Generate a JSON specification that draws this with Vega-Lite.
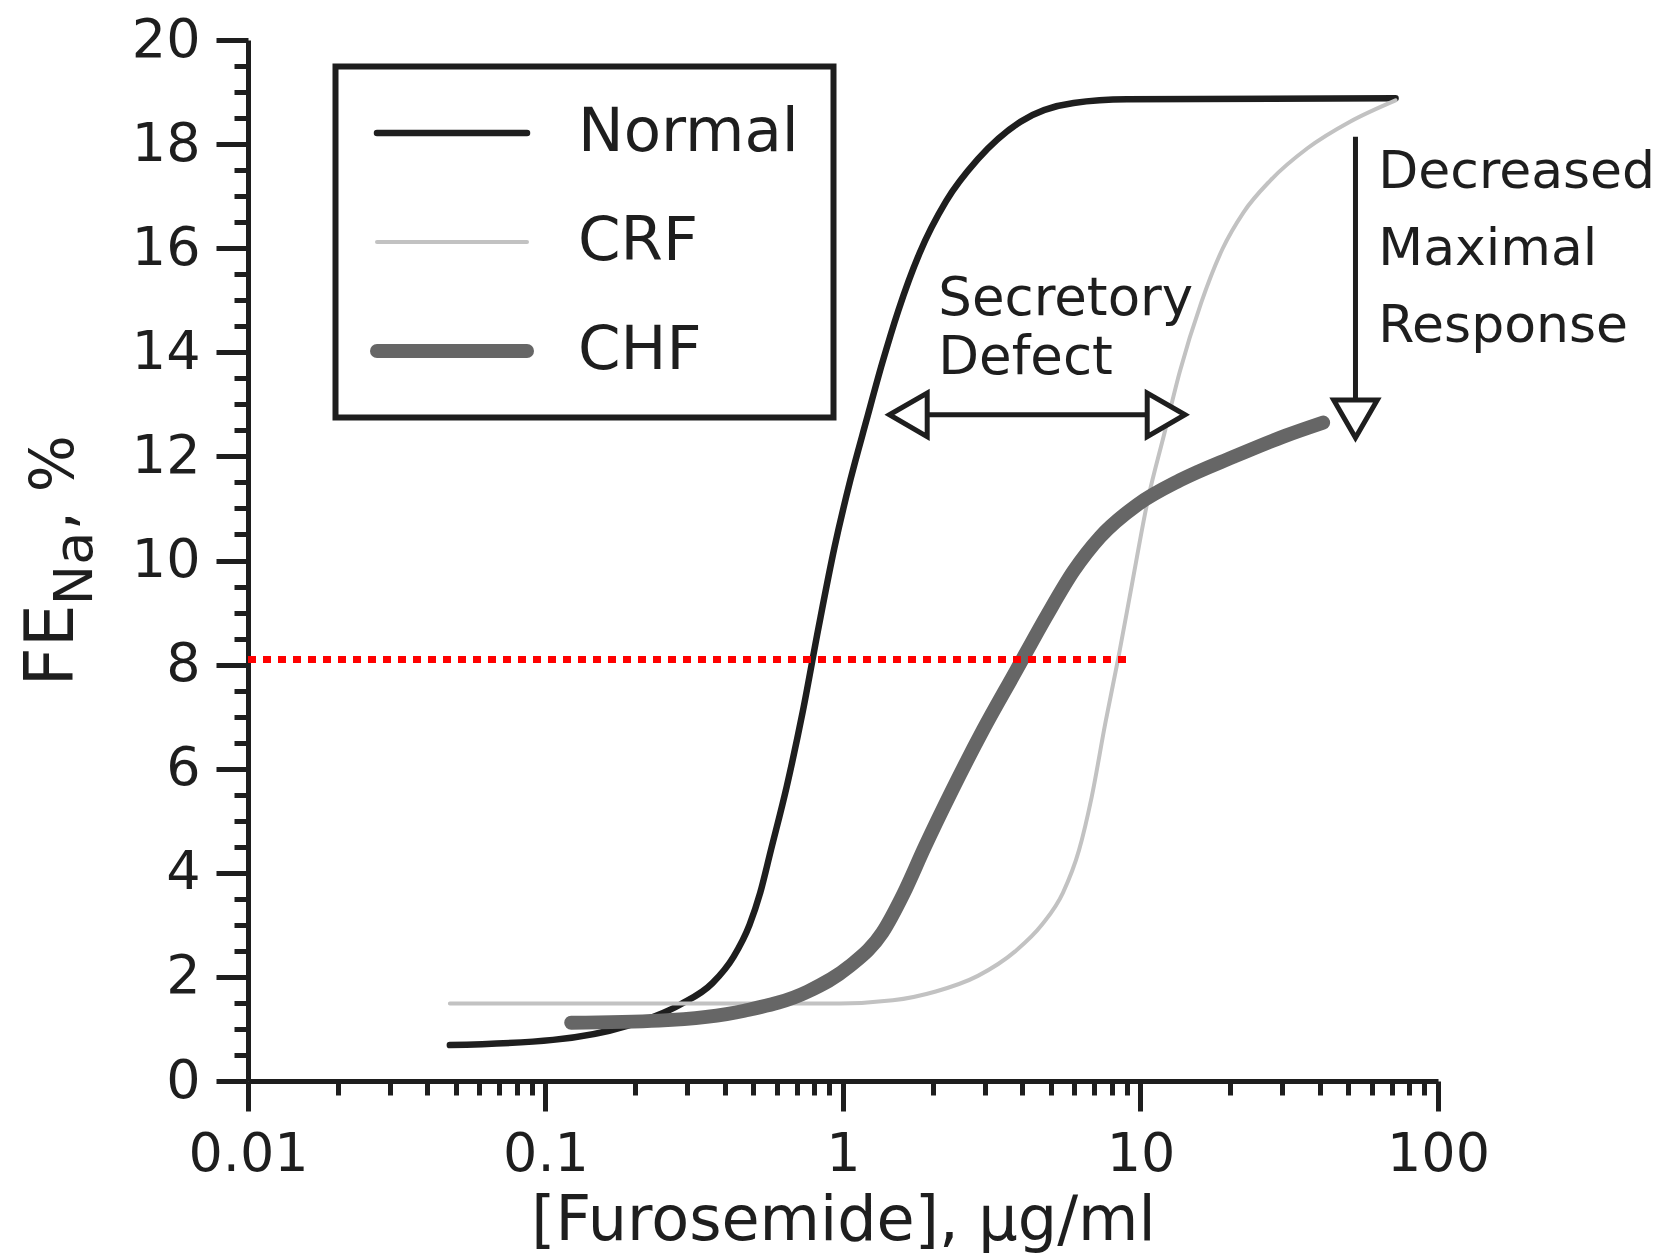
{
  "$schema": "https://vega.github.io/schema/vega-lite/v6.json",
  "width": 1190,
  "height": 1041,
  "autosize": "none",
  "padding": {"left": 248, "top": 40, "right": 229, "bottom": 177},
  "background": "white",
  "config": {
    "view": {"stroke": null},
    "font": "DejaVu Sans",
    "text": {"font": "DejaVu Sans", "color": "#1e1e1e"}
  },
  "datasets": {
    "curves": [
      {"series": "Normal", "conc": 0.0477, "fe": 0.69},
      {"series": "Normal", "conc": 0.106, "fe": 0.79},
      {"series": "Normal", "conc": 0.188, "fe": 1.06},
      {"series": "Normal", "conc": 0.284, "fe": 1.47},
      {"series": "Normal", "conc": 0.364, "fe": 1.88},
      {"series": "Normal", "conc": 0.429, "fe": 2.39},
      {"series": "Normal", "conc": 0.485, "fe": 3.0},
      {"series": "Normal", "conc": 0.527, "fe": 3.62},
      {"series": "Normal", "conc": 0.572, "fe": 4.43},
      {"series": "Normal", "conc": 0.647, "fe": 5.66},
      {"series": "Normal", "conc": 0.732, "fe": 7.09},
      {"series": "Normal", "conc": 0.828, "fe": 8.72},
      {"series": "Normal", "conc": 0.936, "fe": 10.25},
      {"series": "Normal", "conc": 1.059, "fe": 11.55},
      {"series": "Normal", "conc": 1.2, "fe": 12.7},
      {"series": "Normal", "conc": 1.356, "fe": 13.8},
      {"series": "Normal", "conc": 1.534, "fe": 14.8},
      {"series": "Normal", "conc": 1.807, "fe": 15.9},
      {"series": "Normal", "conc": 2.219, "fe": 16.9},
      {"series": "Normal", "conc": 2.84, "fe": 17.71},
      {"series": "Normal", "conc": 3.95, "fe": 18.43},
      {"series": "Normal", "conc": 5.96, "fe": 18.79},
      {"series": "Normal", "conc": 9.0, "fe": 18.86},
      {"series": "Normal", "conc": 72, "fe": 18.88},
      {"series": "CRF", "conc": 0.0477, "fe": 1.49},
      {"series": "CRF", "conc": 0.976, "fe": 1.49},
      {"series": "CRF", "conc": 1.47, "fe": 1.55},
      {"series": "CRF", "conc": 2.05, "fe": 1.72},
      {"series": "CRF", "conc": 2.84, "fe": 2.02},
      {"series": "CRF", "conc": 3.79, "fe": 2.49},
      {"series": "CRF", "conc": 4.66, "fe": 3.0},
      {"series": "CRF", "conc": 5.49, "fe": 3.62},
      {"series": "CRF", "conc": 6.21, "fe": 4.43},
      {"series": "CRF", "conc": 6.85, "fe": 5.45},
      {"series": "CRF", "conc": 7.62, "fe": 6.88},
      {"series": "CRF", "conc": 8.41, "fe": 8.11},
      {"series": "CRF", "conc": 9.36, "fe": 9.54},
      {"series": "CRF", "conc": 10.59, "fe": 11.17},
      {"series": "CRF", "conc": 11.98, "fe": 12.4},
      {"series": "CRF", "conc": 13.56, "fe": 13.63},
      {"series": "CRF", "conc": 15.99, "fe": 14.95},
      {"series": "CRF", "conc": 18.84, "fe": 15.98},
      {"series": "CRF", "conc": 22.2, "fe": 16.69},
      {"series": "CRF", "conc": 27.3, "fe": 17.3},
      {"series": "CRF", "conc": 36.4, "fe": 17.92},
      {"series": "CRF", "conc": 50.6, "fe": 18.43},
      {"series": "CRF", "conc": 72, "fe": 18.84},
      {"series": "CHF", "conc": 0.122, "fe": 1.12},
      {"series": "CHF", "conc": 0.241, "fe": 1.16},
      {"series": "CHF", "conc": 0.466, "fe": 1.35},
      {"series": "CHF", "conc": 0.762, "fe": 1.72},
      {"series": "CHF", "conc": 1.05, "fe": 2.2},
      {"series": "CHF", "conc": 1.356, "fe": 2.85},
      {"series": "CHF", "conc": 1.598, "fe": 3.6},
      {"series": "CHF", "conc": 1.884, "fe": 4.5},
      {"series": "CHF", "conc": 2.31, "fe": 5.55},
      {"series": "CHF", "conc": 2.96, "fe": 6.75},
      {"series": "CHF", "conc": 3.79, "fe": 7.85},
      {"series": "CHF", "conc": 4.85, "fe": 8.95},
      {"series": "CHF", "conc": 5.96, "fe": 9.8},
      {"series": "CHF", "conc": 7.31, "fe": 10.45},
      {"series": "CHF", "conc": 9.75, "fe": 11.07},
      {"series": "CHF", "conc": 13.56, "fe": 11.54},
      {"series": "CHF", "conc": 20.5, "fe": 11.99},
      {"series": "CHF", "conc": 30.8, "fe": 12.4},
      {"series": "CHF", "conc": 41.1, "fe": 12.65}
    ],
    "threshold": [{"conc": 0.01, "conc2": 8.97, "fe": 8.1}],
    "shafts": [
      {"conc": 1.658, "conc2": 12.19, "fe": 12.8, "fe2": 12.8},
      {"conc": 52.8, "conc2": 52.8, "fe": 18.14, "fe2": 12.72}
    ],
    "heads": [
      {"conc": 1.658, "fe": 12.8, "dir": "triangle-left"},
      {"conc": 12.19, "fe": 12.8, "dir": "triangle-right"},
      {"conc": 52.8, "fe": 12.72, "dir": "triangle-down"}
    ],
    "secretory": [{"conc": 2.09, "fe": 14.72, "label": "Secretory\nDefect"}],
    "decreased": [{"conc": 63, "fe": 17.15, "label": "Decreased\nMaximal\nResponse"}],
    "ytitleMain": [{"conc": 0.00258, "fe": 7.58, "label": "FE"}],
    "ytitleSub": [{"conc": 0.00299, "fe": 9.14, "label": "Na"}],
    "ytitleEnd": [{"conc": 0.00258, "fe": 10.58, "label": ", %"}]
  },
  "layer": [
    {
      "data": {"name": "curves"},
      "mark": {"type": "line", "interpolate": "monotone", "strokeCap": "round", "strokeJoin": "round"},
      "encoding": {
        "x": {
          "field": "conc", "type": "quantitative",
          "scale": {"type": "log", "domain": [0.01, 100], "nice": false},
          "axis": {
            "orient": "bottom",
            "values": [0.01, 0.1, 1, 10, 100], "format": "~g",
            "title": "[Furosemide], μg/ml",
            "titleFont": "DejaVu Sans", "titleFontSize": 62, "titleFontWeight": "normal", "titleColor": "#1e1e1e", "titlePadding": 9,
            "labelFont": "DejaVu Sans", "labelFontSize": 54, "labelColor": "#1e1e1e", "labelPadding": 16,
            "labelFlush": false, "labelOverlap": false,
            "tickSize": 30, "tickWidth": 5, "tickColor": "#1e1e1e",
            "domainWidth": 5, "domainColor": "#1e1e1e", "grid": false
          }
        },
        "y": {
          "field": "fe", "type": "quantitative",
          "scale": {"domain": [0, 20], "nice": false},
          "axis": {
            "orient": "left",
            "values": [0, 2, 4, 6, 8, 10, 12, 14, 16, 18, 20],
            "title": null,
            "labelFont": "DejaVu Sans", "labelFontSize": 54, "labelColor": "#1e1e1e", "labelPadding": 16,
            "labelFlush": false, "labelOverlap": false,
            "tickSize": 32, "tickWidth": 5, "tickColor": "#1e1e1e",
            "domainWidth": 5, "domainColor": "#1e1e1e", "grid": false
          }
        },
        "color": {
          "field": "series", "type": "nominal",
          "scale": {"domain": ["Normal", "CRF", "CHF"], "range": ["#1e1e1e", "#c2c2c2", "#666666"]},
          "legend": {
            "orient": "none", "legendX": 87.5, "legendY": 26.5, "title": null,
            "symbolType": "stroke", "symbolSize": 22500,
            "labelFont": "DejaVu Sans", "labelFontSize": 61, "labelColor": "#1e1e1e", "labelOffset": 44, "labelLimit": 500,
            "clipHeight": 64, "rowPadding": 45, "padding": 34.5,
            "strokeColor": "#1e1e1e",
            "encode": {"legend": {"update": {"strokeWidth": {"value": 6}}}, "symbols": {"update": {"strokeCap": {"value": "round"}}}}
          }
        },
        "strokeWidth": {
          "field": "series", "type": "nominal",
          "scale": {"type": "ordinal", "domain": ["Normal", "CRF", "CHF"], "range": [6.5, 4, 14]},
          "legend": {
            "orient": "none", "legendX": 87.5, "legendY": 26.5, "title": null,
            "symbolType": "stroke", "symbolSize": 22500,
            "labelFont": "DejaVu Sans", "labelFontSize": 61, "labelColor": "#1e1e1e", "labelOffset": 44, "labelLimit": 500,
            "clipHeight": 64, "rowPadding": 45, "padding": 34.5,
            "strokeColor": "#1e1e1e",
            "encode": {"legend": {"update": {"strokeWidth": {"value": 6}}}, "symbols": {"update": {"strokeCap": {"value": "round"}}}}
          }
        }
      }
    },
    {
      "data": {"name": "threshold"},
      "mark": {"type": "rule", "color": "#ff0000", "strokeWidth": 7, "strokeDash": [8, 7]},
      "encoding": {
        "x": {
          "field": "conc", "type": "quantitative",
          "scale": {"type": "log", "domain": [0.01, 100], "nice": false},
          "axis": {
            "orient": "bottom", "title": null, "labels": false, "domain": false, "grid": false,
            "values": [0.02, 0.03, 0.04, 0.05, 0.06, 0.07, 0.08, 0.09, 0.2, 0.3, 0.4, 0.5, 0.6, 0.7, 0.8, 0.9, 2, 3, 4, 5, 6, 7, 8, 9, 20, 30, 40, 50, 60, 70, 80, 90],
            "tickSize": 14, "tickWidth": 5, "tickColor": "#1e1e1e"
          }
        },
        "x2": {"field": "conc2"},
        "y": {
          "field": "fe", "type": "quantitative",
          "scale": {"domain": [0, 20], "nice": false},
          "axis": {
            "orient": "left", "title": null, "labels": false, "domain": false, "grid": false,
            "values": [0.5, 1, 1.5, 2.5, 3, 3.5, 4.5, 5, 5.5, 6.5, 7, 7.5, 8.5, 9, 9.5, 10.5, 11, 11.5, 12.5, 13, 13.5, 14.5, 15, 15.5, 16.5, 17, 17.5, 18.5, 19, 19.5],
            "tickSize": 14, "tickWidth": 5, "tickColor": "#1e1e1e"
          }
        }
      }
    },
    {
      "data": {"name": "shafts"},
      "mark": {"type": "rule", "color": "#1e1e1e", "strokeWidth": 5},
      "encoding": {
        "x": {"field": "conc", "type": "quantitative", "scale": {"type": "log", "domain": [0.01, 100], "nice": false}, "axis": null},
        "x2": {"field": "conc2"},
        "y": {"field": "fe", "type": "quantitative", "scale": {"domain": [0, 20], "nice": false}, "axis": null},
        "y2": {"field": "fe2"}
      }
    },
    {
      "data": {"name": "heads"},
      "mark": {"type": "point", "filled": true, "fill": "white", "stroke": "#1e1e1e", "strokeWidth": 5, "opacity": 1, "size": 1900},
      "encoding": {
        "x": {"field": "conc", "type": "quantitative", "scale": {"type": "log", "domain": [0.01, 100], "nice": false}, "axis": null},
        "y": {"field": "fe", "type": "quantitative", "scale": {"domain": [0, 20], "nice": false}, "axis": null},
        "shape": {"field": "dir", "type": "nominal", "scale": null}
      }
    },
    {
      "data": {"name": "secretory"},
      "mark": {"type": "text", "align": "left", "baseline": "alphabetic", "fontSize": 53, "lineHeight": 59.5, "lineBreak": "\n", "color": "#1e1e1e"},
      "encoding": {
        "x": {"field": "conc", "type": "quantitative", "scale": {"type": "log", "domain": [0.01, 100], "nice": false}, "axis": null},
        "y": {"field": "fe", "type": "quantitative", "scale": {"domain": [0, 20], "nice": false}, "axis": null},
        "text": {"field": "label"}
      }
    },
    {
      "data": {"name": "decreased"},
      "mark": {"type": "text", "align": "left", "baseline": "alphabetic", "fontSize": 52, "lineHeight": 77, "lineBreak": "\n", "color": "#1e1e1e"},
      "encoding": {
        "x": {"field": "conc", "type": "quantitative", "scale": {"type": "log", "domain": [0.01, 100], "nice": false}, "axis": null},
        "y": {"field": "fe", "type": "quantitative", "scale": {"domain": [0, 20], "nice": false}, "axis": null},
        "text": {"field": "label"}
      }
    },
    {
      "data": {"name": "ytitleMain"},
      "mark": {"type": "text", "align": "left", "baseline": "alphabetic", "fontSize": 68, "angle": 270, "color": "#1e1e1e"},
      "encoding": {
        "x": {"field": "conc", "type": "quantitative", "scale": {"type": "log", "domain": [0.01, 100], "nice": false}, "axis": null},
        "y": {"field": "fe", "type": "quantitative", "scale": {"domain": [0, 20], "nice": false}, "axis": null},
        "text": {"field": "label"}
      }
    },
    {
      "data": {"name": "ytitleSub"},
      "mark": {"type": "text", "align": "left", "baseline": "alphabetic", "fontSize": 54, "angle": 270, "color": "#1e1e1e"},
      "encoding": {
        "x": {"field": "conc", "type": "quantitative", "scale": {"type": "log", "domain": [0.01, 100], "nice": false}, "axis": null},
        "y": {"field": "fe", "type": "quantitative", "scale": {"domain": [0, 20], "nice": false}, "axis": null},
        "text": {"field": "label"}
      }
    },
    {
      "data": {"name": "ytitleEnd"},
      "mark": {"type": "text", "align": "left", "baseline": "alphabetic", "fontSize": 60, "angle": 270, "color": "#1e1e1e"},
      "encoding": {
        "x": {"field": "conc", "type": "quantitative", "scale": {"type": "log", "domain": [0.01, 100], "nice": false}, "axis": null},
        "y": {"field": "fe", "type": "quantitative", "scale": {"domain": [0, 20], "nice": false}, "axis": null},
        "text": {"field": "label"}
      }
    }
  ],
  "resolve": {"axis": {"x": "independent", "y": "independent"}}
}
